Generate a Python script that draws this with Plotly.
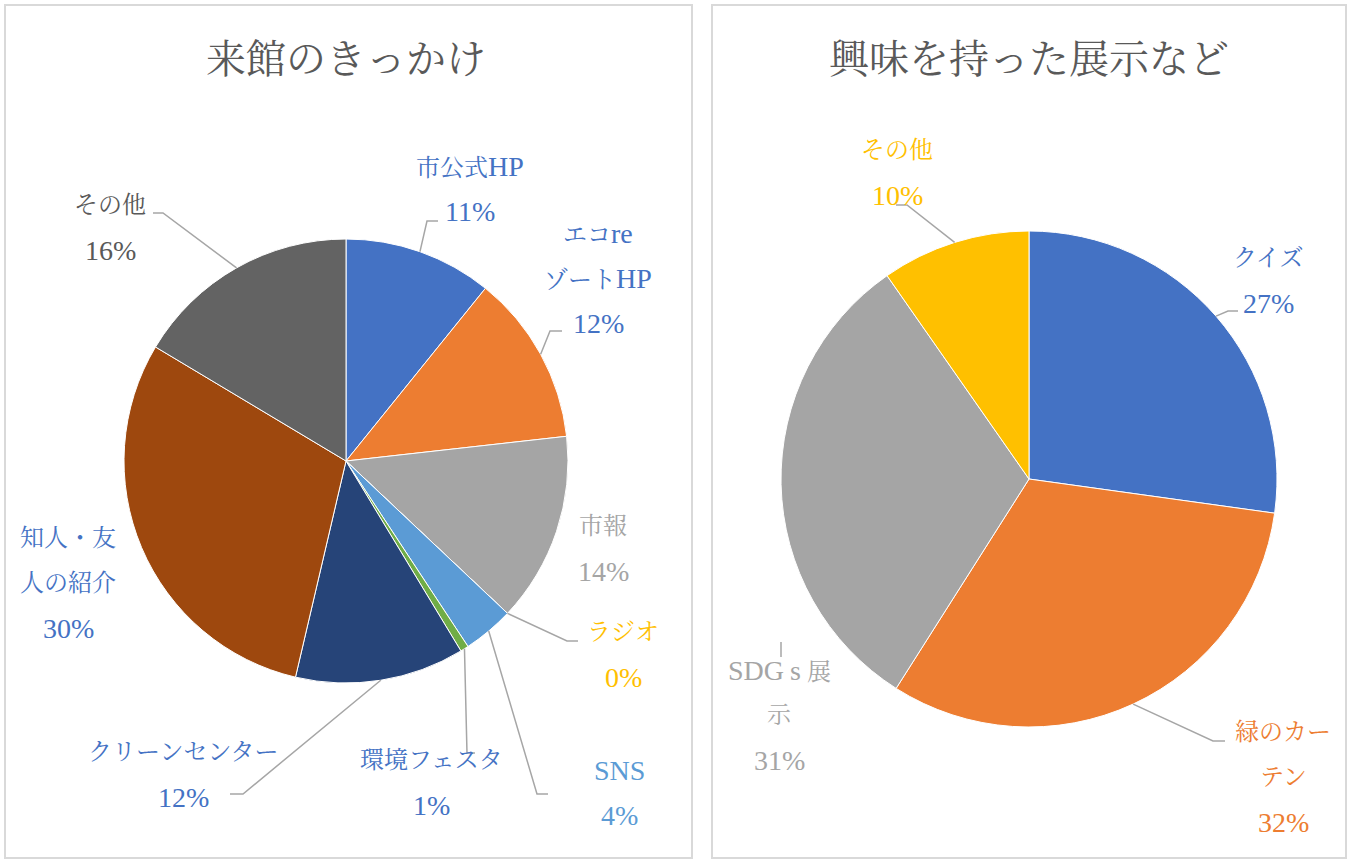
import math
import re
import plotly.graph_objects as go

# ---------------- data ----------------
left_title = "来館のきっかけ"
left_labels = ["市公式HP", "エコreゾートHP", "市報", "ラジオ", "SNS", "環境フェスタ",
               "クリーンセンター", "知人・友人の紹介", "その他"]
left_lines = [["市公式HP"], ["エコre", "ゾートHP"], ["市報"], ["ラジオ"], ["SNS"],
              ["環境フェスタ"], ["クリーンセンター"], ["知人・友", "人の紹介"], ["その他"]]
left_values = [10.8, 12.4, 13.8, 0.0, 3.7, 0.6, 12.3, 29.9, 16.4]

right_title = "興味を持った展示など"
right_labels = ["クイズ", "緑のカーテン", "SDGｓ展示", "その他"]
right_lines = [["クイズ"], ["緑のカー", "テン"], ["SDG s 展", "示"], ["その他"]]
right_values = [27.2, 31.8, 31.3, 9.7]

# ---------------- styles / layout ----------------
W, H = 1351, 861
left_colors = ["#4472C4", "#ED7D31", "#A5A5A5", "#FFC000", "#5B9BD5",
               "#70AD47", "#264478", "#9E480E", "#636363"]
left_text_colors = ["#4472C4", "#4472C4", "#A5A5A5", "#FFC000", "#5B9BD5",
                    "#4472C4", "#4472C4", "#4472C4", "#595959"]
right_colors = ["#4472C4", "#ED7D31", "#A5A5A5", "#FFC000"]
right_text_colors = ["#4472C4", "#ED7D31", "#A5A5A5", "#FFC000"]

FONT = "Liberation Serif, Noto Serif CJK JP, Noto Sans CJK JP, serif"
LBL_SIZE = 24
LATIN_SIZE = 28
LINE_GAP = 45

# pie geometry in screen pixels: center x, center y, radius
left_pie = (346, 461, 222)
right_pie = (1029, 479, 248)

# label block top-line centers (screen pixels)
left_label_pos = [(470, 167), (598, 233), (603, 526), (623, 632), (619, 770),
                  (432, 760), (183, 752), (68, 538), (110, 205)]
right_label_pos = [(1268, 258), (1283, 732), (780, 670), (897, 150)]

# leader elbows (screen pixels); None = no leader
left_leaders = [[(438, 221), (427, 221)], [(562, 331), (550, 331)], None,
                [(578, 641), (567, 641)], [(548, 794), (537, 794)],
                [(475, 753), (467, 753)], [(230, 794), (243, 794)], None,
                [(153, 213), (163, 213)]]
right_leaders = [[(1238, 311), (1228, 311)], [(1225, 741), (1213, 741)],
                 "tick", [(896, 205), (907, 205)]]


def px(x):
    return x / W


def py(y):
    return 1 - y / H


def domain(p):
    cx, cy, r = p
    return dict(x=[px(cx - r), px(cx + r)], y=[py(cy + r), py(cy - r)])


def mid_points(values, p):
    cx, cy, r = p
    tot = sum(values)
    out = []
    acc = 0.0
    for v in values:
        a = (acc + v / 2) / tot * 2 * math.pi
        out.append((cx + r * math.sin(a), cy - r * math.cos(a)))
        acc += v
    return out


def styled(text):
    # enlarge latin runs (the reference font has large latin glyphs)
    return re.sub(r"([A-Za-z0-9%]+)",
                  lambda m: f'<span style="font-size:{LATIN_SIZE}px">{m.group(1)}</span>', text)


fig = go.Figure()
for vals, labs, cols, p in [(left_values, left_labels, left_colors, left_pie),
                            (right_values, right_labels, right_colors, right_pie)]:
    fig.add_trace(go.Pie(
        values=vals, labels=labs, sort=False, direction="clockwise", rotation=0,
        marker=dict(colors=cols, line=dict(color="white", width=1)),
        textinfo="none", hoverinfo="label+percent", domain=domain(p),
        showlegend=False))

annotations = []
shapes = []

# panel borders
for x0, x1 in [(5, 692), (712, 1346)]:
    shapes.append(dict(type="rect", xref="paper", yref="paper",
                       x0=px(x0), x1=px(x1), y0=py(858), y1=py(5),
                       line=dict(color="#D9D9D9", width=2), layer="below"))

# titles
for t, cx in [(left_title, 346), (right_title, 1029)]:
    annotations.append(dict(text=t, x=px(cx), y=py(60), xref="paper", yref="paper",
                            showarrow=False, xanchor="center", yanchor="middle",
                            font=dict(family=FONT, size=40, color="#595959")))


def add_labels(lines_list, values, tcolors, positions, leaders, p):
    tot = sum(values)
    mids = mid_points(values, p)
    for i, lines in enumerate(lines_list):
        x, y = positions[i]
        pct = f"{round(values[i] / tot * 100)}%"
        for k, ln in enumerate(list(lines) + [pct]):
            annotations.append(dict(text=styled(ln), x=px(x), y=py(y + k * LINE_GAP),
                                    xref="paper", yref="paper", showarrow=False,
                                    xanchor="center", yanchor="middle",
                                    font=dict(family=FONT, size=LBL_SIZE, color=tcolors[i])))
        ld = leaders[i]
        if ld is None:
            continue
        if ld == "tick":
            pts = [(x + 1, y - 13), (x + 1, y - 28)]
        else:
            pts = list(ld) + [mids[i]]
        path = "M " + " L ".join(f"{px(a):.5f},{py(b):.5f}" for a, b in pts)
        shapes.append(dict(type="path", xref="paper", yref="paper", path=path,
                           line=dict(color="#A6A6A6", width=1.5)))


add_labels(left_lines, left_values, left_text_colors, left_label_pos, left_leaders, left_pie)
add_labels(right_lines, right_values, right_text_colors, right_label_pos, right_leaders, right_pie)

fig.update_layout(width=W, height=H, margin=dict(l=0, r=0, t=0, b=0),
                  paper_bgcolor="white", plot_bgcolor="white",
                  annotations=annotations, shapes=shapes)

fig.write_html("out.html",
               config={"displayModeBar": False},
               post_script="document.body.style.margin='0';"
                           "document.body.style.overflow='hidden';")
